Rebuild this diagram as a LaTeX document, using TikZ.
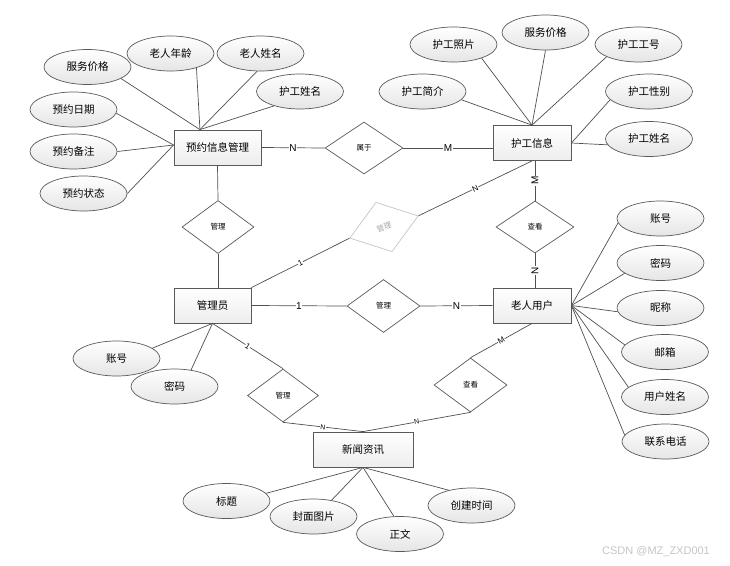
\documentclass[tikz,border=0pt]{standalone}
\usepackage{fontspec}
\setmainfont{Noto Sans CJK SC}
\newfontfamily\latf{Liberation Sans}
\usetikzlibrary{shapes.geometric,calc}
\definecolor{lc}{HTML}{505050}
\definecolor{bd}{HTML}{5A5A5A}
\begin{document}
\begin{tikzpicture}[x=1pt,y=-1pt,
  ent/.style={draw=bd,line width=0.8pt,top color=white,bottom color=gray!14,minimum width=#1,minimum height=35pt,inner sep=0pt,font=\fontsize{10.5}{12}\selectfont},
  ent/.default=78pt,
  attr/.style={ellipse,draw=bd,line width=0.7pt,top color=white,bottom color=gray!20,minimum width=87pt,minimum height=35pt,inner sep=0pt,font=\fontsize{10.5}{12}\selectfont},
  rel/.style={diamond,draw=bd,line width=0.7pt,fill=white,inner sep=0pt,minimum width=#1,minimum height=53pt,font=\fontsize{7.5}{9}\selectfont},
  rel/.default=72pt,
  con/.style={draw=lc,line width=0.7pt},
  card/.style={fill=white,inner sep=0.6pt,font=\latf\fontsize{10}{11}\selectfont},
  cards/.style={fill=white,inner sep=0.4pt,font=\latf\fontsize{8}{9}\selectfont,sloped},
  cardt/.style={fill=white,inner sep=0.3pt,font=\latf\fontsize{7}{8}\selectfont,sloped},
]
\fill[white] (0,0) rectangle (730,565);
\useasboundingbox (0,0) rectangle (730,565);

% entities
\node[ent=87pt] (pm) at (217.5,147.5) {预约信息管理};
\node[ent] (hg) at (532,143) {护工信息};
\node[ent=77pt] (gly) at (212.5,305.5) {管理员};
\node[ent] (lry) at (532,305.5) {老人用户};
\node[ent=100pt] (xw) at (363,449.5) {新闻资讯};

% relationships
\node[rel=78pt,minimum height=52pt] (sy) at (364,148) {属于};
\node[rel] (gl1) at (218,227) {管理};
\node[rel=73pt] (gl2) at (383.5,306) {管理};
\node[rel=78pt,minimum height=52pt] (ck1) at (535,227) {查看};
\node[rel=73pt,minimum height=54pt] (ck2) at (470.5,385) {查看};
\node[rel=71pt] (gl3) at (283,395.5) {管理};
\node[rel,minimum height=52pt,draw=gray!45,text=gray!70,rotate=18] (gr) at (384,227) {管理};

% attributes
\node[attr] (fw1) at (87.5,67) {服务价格};
\node[attr] (ln) at (170.5,53.5) {老人年龄};
\node[attr] (lx) at (260.5,53.5) {老人姓名};
\node[attr] (hx1) at (300,91.5) {护工姓名};
\node[attr] (yr) at (73.5,109.5) {预约日期};
\node[attr] (yb) at (73.5,151.5) {预约备注};
\node[attr] (yz) at (83.5,193.5) {预约状态};
\node[attr] (hz) at (453.5,44.5) {护工照片};
\node[attr] (fw2) at (545.5,32.5) {服务价格};
\node[attr] (hgh) at (638.5,44.5) {护工工号};
\node[attr] (hj) at (422.5,91.5) {护工简介};
\node[attr] (hxb) at (649,91.5) {护工性别};
\node[attr] (hx2) at (649,139) {护工姓名};
\node[attr] (zh1) at (660.5,218.5) {账号};
\node[attr] (mm1) at (660.5,263) {密码};
\node[attr] (nc) at (660.5,308) {昵称};
\node[attr] (yx) at (665,352) {邮箱};
\node[attr] (yh) at (665,397) {用户姓名};
\node[attr] (lxdh) at (665.5,441.5) {联系电话};
\node[attr] (zh2) at (116.5,358.5) {账号};
\node[attr] (mm2) at (174.5,386.5) {密码};
\node[attr] (bt) at (226.5,501) {标题};
\node[attr] (fm) at (313.5,516.5) {封面图片};
\node[attr] (zw) at (400,534) {正文};
\node[attr] (cj) at (471.5,505.5) {创建时间};

% attribute connectors
\coordinate (pmT) at ($(pm.north west)!0.3!(pm.north east)$);
\coordinate (pmL) at ($(pm.north west)!0.43!(pm.south west)$);
\draw[con] (pmT) -- (fw1.-19);
\draw[con] (pmT) -- (ln.-29);
\draw[con] (pmT) -- (lx.259);
\draw[con] (pmT) -- (hx1.209);
\draw[con] (pmL) -- (yr.-5);
\draw[con] (pmL) -- (yb.east);
\draw[con] (pmL) -- (yz.east);

\draw[con] (hg.north) -- (hz.-26);
\draw[con] (hg.north) -- (fw2.south);
\draw[con] (hg.north) -- (hgh.201);
\draw[con] (hg.north) -- (hj.-12);
\draw[con] (hg.east) -- (hxb.192);
\draw[con] (hg.east) -- (hx2.188);

\draw[con] (lry.east) -- (zh1.186);
\draw[con] (lry.east) -- (mm1.196);
\draw[con] (lry.east) -- (nc.185);
\draw[con] (lry.east) -- (yx.170);
\draw[con] (lry.east) -- (yh.165);
\draw[con] (lry.east) -- (lxdh.171);

\draw[con] (gly.south) -- (zh2.16);
\draw[con] (gly.south) -- (mm2.45);

\draw[con] (xw.south) -- (bt.11);
\draw[con] (xw.south) -- (fm.42);
\draw[con] (xw.south) -- (zw.109);
\draw[con] (xw.south) -- (cj.146);

% relationship connectors
\draw[con] (pm.east) -- node[card]{N} (sy.west);
\draw[con] (sy.east) -- node[card]{M} (sy.east -| hg.west);
\draw[con] (pm.south) -- (gl1.north);
\draw[con] (gl1.south) -- (gl1.south |- gly.north);
\draw[con] (gly.north east) -- node[cards]{1} (gr.west);
\draw[con] (gr.east) -- node[cards]{N} (hg.south);
\draw[con] (hg.south -| ck1.north) -- node[card,rotate=90]{M} (ck1.north);
\draw[con] (ck1.south) -- node[card,rotate=90]{N} (ck1.south |- lry.north);
\draw[con] (gly.east) -- node[card]{1} (gl2.west);
\draw[con] (gl2.east) -- node[card]{N} (lry.west);
\draw[con] (lry.south) -- node[cards]{M} (ck2.north);
\draw[con] (ck2.south) -- node[cardt]{N} (xw.north);
\draw[con] (gly.south) -- node[cards]{1} (gl3.north);
\draw[con] (gl3.south) -- node[cardt]{N} (xw.north);

% watermark
\node[text=gray!45,font=\latf\fontsize{11}{12}\selectfont] (wm) at (656,552) {CSDN @MZ\_ZXD001};
\end{tikzpicture}
\end{document}
